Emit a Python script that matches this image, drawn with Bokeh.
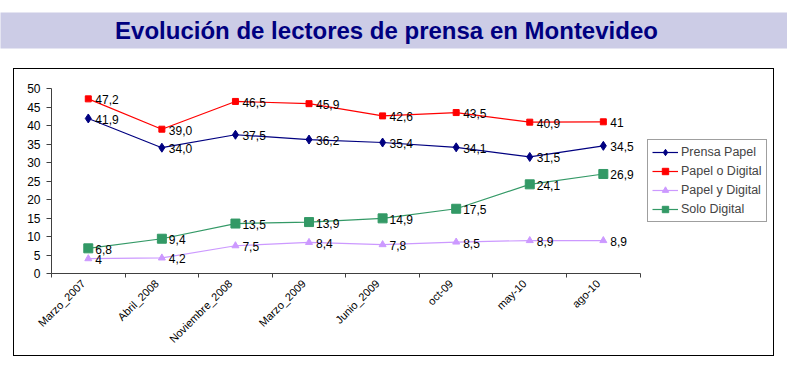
from math import pi
from bokeh.plotting import figure
from bokeh.layouts import column, row
from bokeh.models import Range1d, FixedTicker, Legend, LegendItem, Spacer
from bokeh.core.properties import value
from bokeh.embed import file_html
from bokeh.resources import INLINE

title_text = "Evolución de lectores de prensa en Montevideo"
categories = ["Marzo_2007", "Abril_2008", "Noviembre_2008", "Marzo_2009",
              "Junio_2009", "oct-09", "may-10", "ago-10"]
prensa_papel = [41.9, 34.0, 37.5, 36.2, 35.4, 34.1, 31.5, 34.5]
papel_o_digital = [47.2, 39.0, 46.5, 45.9, 42.6, 43.5, 40.9, 41.0]
papel_y_digital = [4.0, 4.2, 7.5, 8.4, 7.8, 8.5, 8.9, 8.9]
solo_digital = [6.8, 9.4, 13.5, 13.9, 14.9, 17.5, 24.1, 26.9]
labels_prensa_papel = ["41,9", "34,0", "37,5", "36,2", "35,4", "34,1", "31,5", "34,5"]
labels_papel_o_digital = ["47,2", "39,0", "46,5", "45,9", "42,6", "43,5", "40,9", "41"]
labels_papel_y_digital = ["4", "4,2", "7,5", "8,4", "7,8", "8,5", "8,9", "8,9"]
labels_solo_digital = ["6,8", "9,4", "13,5", "13,9", "14,9", "17,5", "24,1", "26,9"]
y_ticks = [0, 5, 10, 15, 20, 25, 30, 35, 40, 45, 50]

FONT = "Liberation Sans"

# ---- title band ----
tf = figure(width=787, height=60, x_range=Range1d(0, 787), y_range=Range1d(0, 1),
            x_axis_type=None, y_axis_type=None, output_backend="svg",
            toolbar_location=None, min_border_left=0, min_border_right=0,
            min_border_top=12, min_border_bottom=12)
tf.xgrid.visible = False
tf.ygrid.visible = False
tf.outline_line_color = None
tf.background_fill_color = "#CCCCE6"
tf.border_fill_color = "white"
tf.text(x=[386], y=[0.5], text=[title_text], text_align="center",
        text_baseline="middle", text_font=value(FONT), text_font_size="24px",
        text_font_style="bold", text_color="#000080")

# ---- chart ----
n = len(categories)
xs = list(range(n))
AXIS_PX = 587          # length of the category axis
FRAME_W = 722          # frame also holds the legend area on the right
x_end = -0.5 + FRAME_W * n / AXIS_PX
p = figure(frame_width=FRAME_W, frame_height=183,
           x_range=Range1d(-0.5, x_end),
           y_range=Range1d(0, 50), output_backend="svg", toolbar_location=None,
           min_border_left=37, min_border_right=0, min_border_top=19,
           min_border_bottom=84)
p.styles = {"border": "1px solid black"}
p.xgrid.visible = False
p.ygrid.visible = False
p.outline_line_color = None
p.background_fill_color = "white"
p.border_fill_color = "white"

# category labels sit slightly left of the category centre, as in the original
label_ticks = [round(i - 0.07, 2) for i in xs]
xa = p.xaxis[0]
xa.bounds = (-0.5, n - 0.5)
xa.ticker = FixedTicker(ticks=label_ticks, minor_ticks=[i - 0.5 for i in range(n + 1)])
xa.major_label_overrides = {t: c for t, c in zip(label_ticks, categories)}
xa.major_tick_out = 0
xa.major_tick_in = 0
xa.minor_tick_out = 4
xa.minor_tick_in = 0
xa.axis_line_color = "#404040"
xa.minor_tick_line_color = "#404040"
xa.major_label_orientation = pi / 4
xa.major_label_text_font = FONT
xa.major_label_text_font_size = "11px"
xa.major_label_text_color = "black"
xa.major_label_standoff = 4

ya = p.yaxis[0]
ya.ticker = FixedTicker(ticks=y_ticks)
ya.minor_tick_out = 0
ya.minor_tick_in = 0
ya.major_tick_out = 5
ya.major_tick_in = 0
ya.axis_line_color = "#404040"
ya.major_tick_line_color = "#404040"
ya.major_label_standoff = 6
ya.major_label_text_font = FONT
ya.major_label_text_font_size = "12px"
ya.major_label_text_color = "black"

series = [
    ("Prensa Papel", prensa_papel, labels_prensa_papel, "#000080", "diamond", 9),
    ("Papel o Digital", papel_o_digital, labels_papel_o_digital, "#FF0000", "square", 6),
    ("Papel y Digital", papel_y_digital, labels_papel_y_digital, "#CC99FF", "triangle", 7),
    ("Solo Digital", solo_digital, labels_solo_digital, "#339966", "square", 9),
]

items = []
for name, vals, labs, color, marker, size in series:
    r1 = p.line(xs, vals, line_color=color, line_width=1.2)
    r2 = p.scatter(xs, vals, marker=marker, size=size, fill_color=color, line_color=color)
    p.text(xs, vals, text=labs, x_offset=7, y_offset=1, text_baseline="middle",
           text_align="left", text_font=value(FONT), text_font_size="12px",
           text_color="black")
    items.append(LegendItem(label=name, renderers=[r1, r2]))

legend = Legend(items=items, location=(596, 51), margin=0, padding=4, spacing=3,
                glyph_width=26, glyph_height=16, label_height=16, label_standoff=3,
                label_text_font=FONT, label_text_font_size="12.5px",
                border_line_color="#404040", border_line_width=1.5,
                background_fill_color="white", background_fill_alpha=1.0)
p.add_layout(legend)

layout = column(tf, Spacer(height=8), row(Spacer(width=13), p))
open("out.html", "w").write(file_html(layout, INLINE))
